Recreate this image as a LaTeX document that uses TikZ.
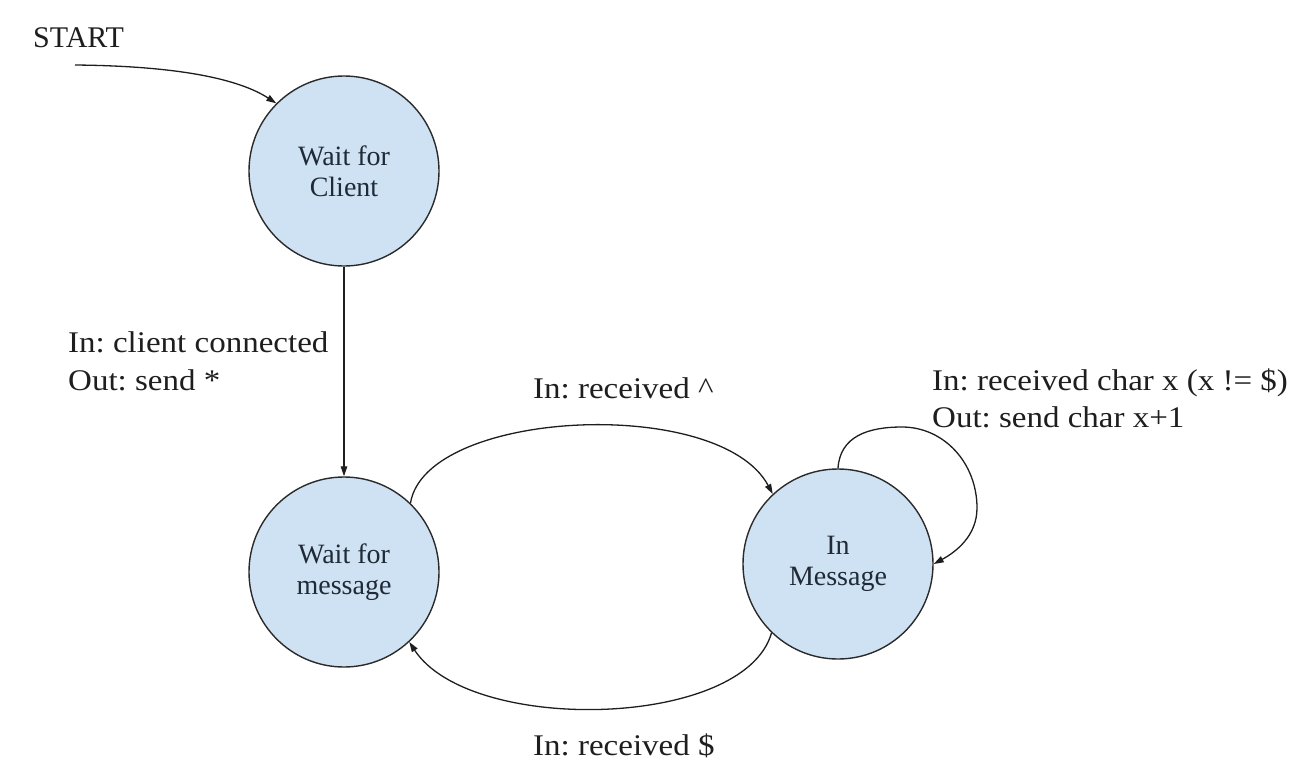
\documentclass[tikz,border=0pt]{standalone}
\usepackage{fontspec}
\setmainfont[FakeStretch=1.1]{Liberation Serif}
\newfontfamily\nodefont{Liberation Serif}
\usetikzlibrary{arrows.meta}
\definecolor{statefill}{HTML}{CFE2F3}
\definecolor{stateline}{HTML}{2A2A2A}
\definecolor{txt}{HTML}{1E1E1E}
\definecolor{nodetxt}{HTML}{1F2A36}
\frenchspacing
\tikzset{
  state/.style={circle, draw=stateline, line width=1.4pt, fill=statefill,
    minimum size=190pt, inner sep=0pt, align=center, text=nodetxt,
    font=\nodefont\fontsize{28}{31}\selectfont},
  lbl/.style={anchor=base west, inner sep=0pt, text=txt,
    font=\fontsize{30}{38}\selectfont},
  conn/.style={line width=1.3pt, draw=txt,
    -{Triangle[length=10pt,width=6.5pt]}},
}
\begin{document}
\begin{tikzpicture}[x=1pt,y=-1pt]
\useasboundingbox (0,0) rectangle (1309,780);

\node[state] (cl) at (344,171) {Wait for\\Client};
\node[state] (wm) at (344,572) {Wait for\\message};
\node[state] (im) at (838,564) {In\\Message};

\node[anchor=base west, inner sep=0pt, text=txt,
  font=\nodefont\fontsize{30}{36}\selectfont] (start) at (33,47) {START};
\coordinate (s0) at (75,65);
\coordinate (lp) at (902,427);
\coordinate (rp) at (977,508);

\node[lbl] (l1a) at (68,352) {In: client connected};
\node[lbl] (l1b) at (68,390) {Out: send *};
\node[lbl] (l2) at (533,398) {In: received \textasciicircum};
\node[lbl] (l3a) at (932,390) {In: received char x (x != \$)};
\node[lbl] (l3b) at (932,427) {Out: send char x+1};
\node[lbl] (l4) at (533,755) {In: received \$};

\draw[conn] (s0) .. controls +(105,1) and +(-37,-24) .. (cl.135);
\draw[conn] (cl.south) -- (wm.north);
\draw[conn] (wm.46) .. controls +(15,-94) and +(-53,-99) .. (im.133);
\draw[conn] (im.226) .. controls +(-27,96) and +(61,93) .. (wm.313);
\draw[conn] (im.north) .. controls +(2,-32) and +(-34,0) .. (lp)
  .. controls +(42,0) and +(0,-45) .. (rp)
  .. controls +(0,28) and +(22,-12) .. (im.east);
\end{tikzpicture}
\end{document}
